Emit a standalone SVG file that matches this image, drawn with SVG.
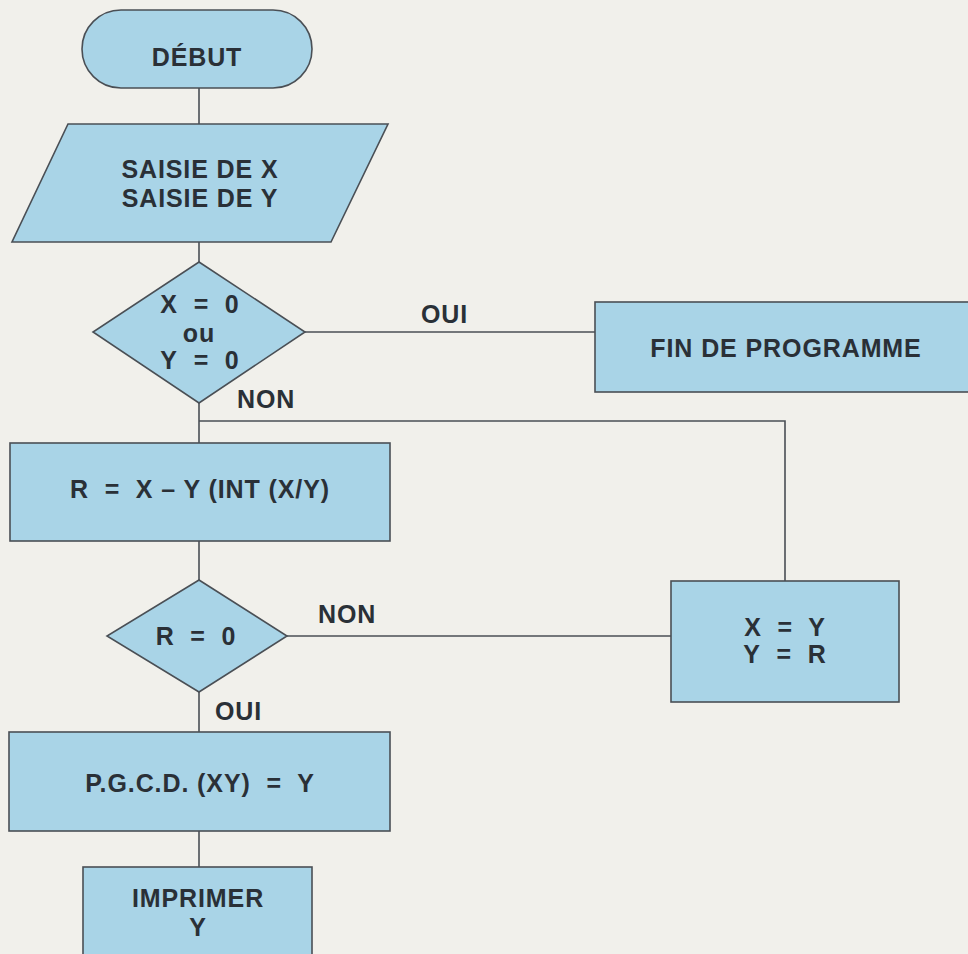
<svg xmlns="http://www.w3.org/2000/svg" width="968" height="954" viewBox="0 0 968 954">
<style>
.shape{fill:#a9d4e7;stroke:#4a4f55;stroke-width:1.6}
.con{fill:none;stroke:#4a4f55;stroke-width:1.6}
text{font-family:"Liberation Sans",Arial,sans-serif;font-weight:bold;font-size:25px;fill:#2a3037;letter-spacing:0.9px}
.c{text-anchor:middle}
</style>
<rect width="968" height="954" fill="#f1f0eb"/>
<g id="connectors">
<line class="con" x1="199" y1="88" x2="199" y2="124"/>
<line class="con" x1="199" y1="242" x2="199" y2="262"/>
<line class="con" x1="305" y1="332" x2="595" y2="332"/>
<line class="con" x1="199" y1="403" x2="199" y2="443"/>
<polyline class="con" points="199,421 785,421 785,581"/>
<line class="con" x1="199" y1="541" x2="199" y2="580"/>
<line class="con" x1="287" y1="636" x2="671" y2="636"/>
<line class="con" x1="199" y1="692" x2="199" y2="732"/>
<line class="con" x1="199" y1="831" x2="199" y2="867"/>
<text x="421" y="323">OUI</text>
<text x="237" y="408">NON</text>
<text x="318" y="623">NON</text>
<text x="215" y="720">OUI</text>
</g>
<g id="debut">
<rect class="shape" x="82" y="10" width="230" height="78" rx="39" ry="39"/>
<text class="c" x="197" y="66">DÉBUT</text>
</g>
<g id="saisie">
<polygon class="shape" points="68,124 388,124 331,242 12,242"/>
<text class="c" x="200" y="178">SAISIE DE X</text>
<text class="c" x="200" y="207">SAISIE DE Y</text>
</g>
<g id="test-xy">
<polygon class="shape" points="199,262 305,332 199,403 93,332"/>
<text class="c" x="200" y="313">X&#160; =&#160; 0</text>
<text class="c" x="199" y="342">ou</text>
<text class="c" x="200" y="369">Y&#160; =&#160; 0</text>
</g>
<g id="fin">
<rect class="shape" x="595" y="302" width="380" height="90"/>
<text class="c" x="786" y="357">FIN DE PROGRAMME</text>
</g>
<g id="calc-r">
<rect class="shape" x="10" y="443" width="380" height="98"/>
<text class="c" x="200" y="498">R&#160; =&#160; X – Y (INT (X/Y)</text>
</g>
<g id="test-r">
<polygon class="shape" points="199,580 287,636 199,692 107,636"/>
<text class="c" x="196" y="645">R&#160; =&#160; 0</text>
</g>
<g id="swap">
<rect class="shape" x="671" y="581" width="228" height="121"/>
<text class="c" x="785" y="636">X&#160; =&#160; Y</text>
<text class="c" x="785" y="663">Y&#160; =&#160; R</text>
</g>
<g id="pgcd">
<rect class="shape" x="9" y="732" width="381" height="99"/>
<text class="c" x="200" y="792">P.G.C.D. (XY)&#160; =&#160; Y</text>
</g>
<g id="imprimer">
<rect class="shape" x="83" y="867" width="229" height="100"/>
<text class="c" x="198" y="907">IMPRIMER</text>
<text class="c" x="198" y="936">Y</text>
</g>
</svg>
